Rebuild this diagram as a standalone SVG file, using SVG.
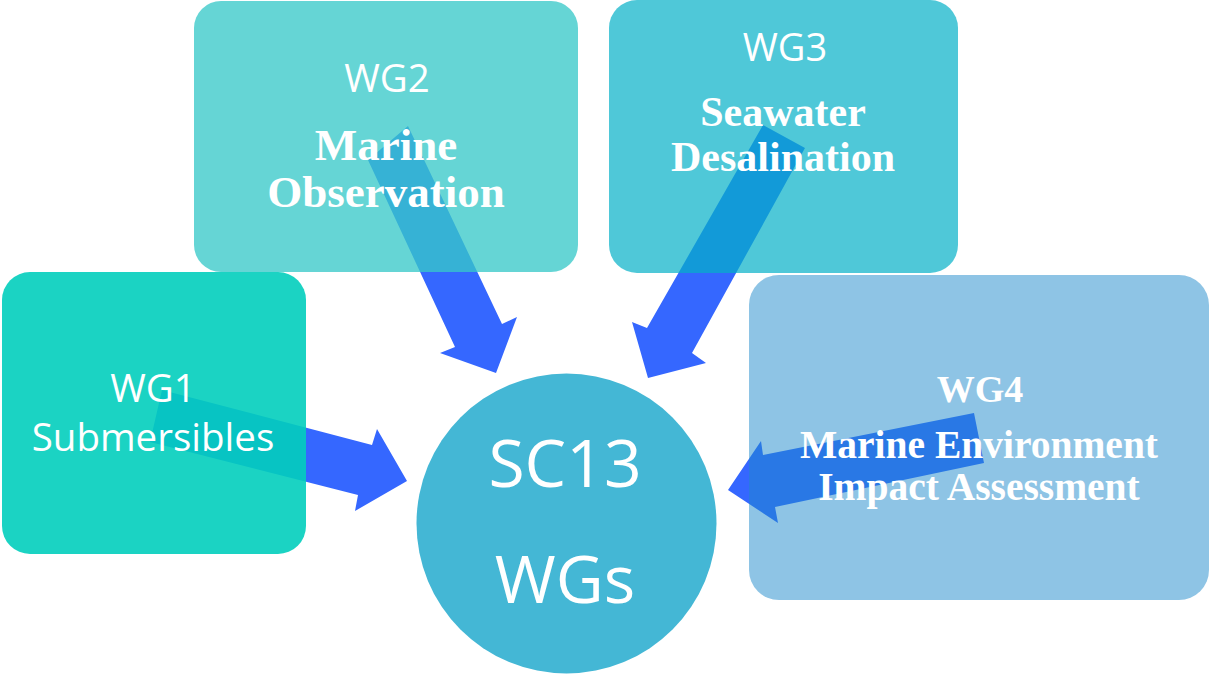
<svg xmlns="http://www.w3.org/2000/svg" width="1209" height="675" viewBox="0 0 1209 675">
<style>
.arrow{fill:#3567FF}
.sans{font-family:"Open Sans","DejaVu Sans",sans-serif;fill:#fff;text-anchor:middle}
.serif{font-family:"Liberation Serif","Times New Roman",serif;font-weight:bold;fill:#fff;text-anchor:middle}
</style>
<rect width="1209" height="675" fill="#fff"/>
<g id="connectors">
<polygon class="arrow" points="162,390 372,445 377,429 407,481 355,511 358,495 150,442"/>
<polygon class="arrow" points="408,126 502,324 517,317 496,373 440,353 455,347 368,160"/>
<polygon class="arrow" points="763,125 805,148 692,353 706,363 648,378 632,322 647,328"/>
<polygon class="arrow" points="974,413 984,463 775,507 778,523 728,490 761,441 763,455"/>
</g>
<g id="wg1">
<rect x="2" y="272" width="304" height="282" rx="28" fill="rgb(2,206,188)" fill-opacity="0.9"/>
<text class="sans" x="153" y="402" font-size="38.5">WG1</text>
<text class="sans" x="153" y="451" font-size="38.5">Submersibles</text>
</g>
<g id="wg2">
<rect x="194" y="1" width="384" height="271" rx="27" fill="rgb(55,200,200)" fill-opacity="0.77"/>
<text class="sans" x="387" y="92" font-size="38.5">WG2</text>
<text class="serif" x="386" y="160" font-size="45">Marine</text>
<text class="serif" x="386" y="207" font-size="45">Observation</text>
</g>
<g id="wg3">
<rect x="609" y="0" width="349" height="273" rx="28" fill="rgb(4,176,200)" fill-opacity="0.7"/>
<text class="sans" x="785" y="61" font-size="38">WG3</text>
<text class="serif" x="783" y="126" font-size="42">Seawater</text>
<text class="serif" x="783" y="171" font-size="42">Desalination</text>
</g>
<g id="wg4">
<rect x="749" y="275" width="460" height="325" rx="30" fill="rgb(29,137,203)" fill-opacity="0.5"/>
<text class="serif" x="980" y="402" font-size="38">WG4</text>
<text class="serif" x="979" y="458" font-size="39.5">Marine Environment</text>
<text class="serif" x="979" y="500" font-size="39.5">Impact Assessment</text>
</g>
<g id="sc13">
<circle cx="566.5" cy="523.5" r="150" fill="#44B7D5"/>
<text class="sans" x="565" y="487" font-size="66">SC13</text>
<text class="sans" x="565" y="603" font-size="66">WGs</text>
</g>
</svg>
